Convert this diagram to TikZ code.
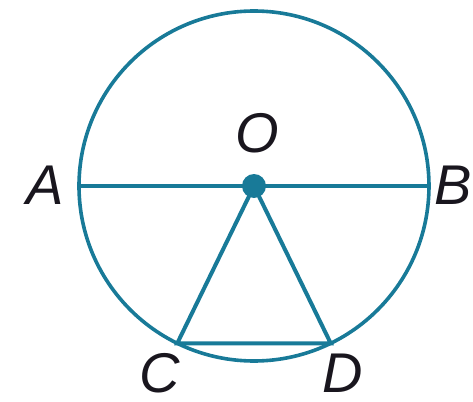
\documentclass[tikz,border=0pt]{standalone}
\usepackage{fontspec}
\setmainfont{Liberation Sans}
\usepackage{tikz}
\usetikzlibrary{calc,positioning}
\definecolor{geoblue}{RGB}{24,122,152}
\definecolor{labelink}{RGB}{25,22,30}

\begin{document}
\begin{tikzpicture}[x=0.5pt,y=0.5pt,
    geoline/.style={geoblue,line width=2pt},
    ptlabel/.style={labelink,font=\fontsize{28}{30}\selectfont\itshape,inner sep=0pt}]
  \useasboundingbox (-254,-216) rectangle (219,186);
  \coordinate (O) at (0,0);
  \coordinate (A) at (180:175);
  \coordinate (B) at (0:175);
  \coordinate (C) at (244:175);
  \coordinate (D) at (296:175);
  \draw[geoline,line width=1.8pt] (O) circle (175);
  \draw[geoline] (A) -- (B);
  \draw[geoline] (C) -- (O) -- (D) -- cycle;
  \fill[geoblue] (O) circle (12);
  \node[ptlabel] (lO) at (3,53) {O};
  \node[ptlabel] (lA) at (-209,1) {A};
  \node[ptlabel] (lB) at (199,1) {B};
  \node[ptlabel] (lC) at (-94,-187) {C};
  \node[ptlabel] (lD) at (89,-187) {D};
\end{tikzpicture}
\end{document}
